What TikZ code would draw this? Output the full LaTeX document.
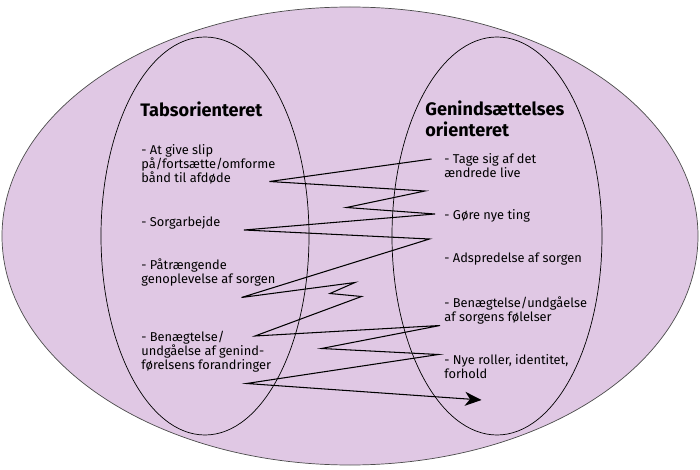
\documentclass[tikz,border=0pt]{standalone}
\usepackage{fontspec}
\setmainfont{Fira Sans}
\usepackage{tikz}
\usetikzlibrary{shapes,arrows,arrows.meta}
\definecolor{lilla}{RGB}{224,200,228}
\tikzset{
  punkt/.style={anchor=north west, inner sep=0pt, align=left, font=\fontsize{7.3}{8}\selectfont},
  titel/.style={anchor=north west, inner sep=0pt, align=left, font=\fontsize{10.3}{12.5}\selectfont\bfseries}
}

\begin{document}
\begin{tikzpicture}
   \useasboundingbox (-7,4.72) rectangle (7,-4.66);
   % de tre ellipser
   \draw[gray!60!black, fill=lilla] (0,0) ellipse (6.96 and 4.58);
   \draw (-2.9,0) ellipse (2.08 and 3.98);
   \draw (2.94,0) ellipse (2.1 and 3.98);
   % venstre side
   \node[titel] (tab) at (-4.2,2.7) {Tabsorienteret};
   \node[punkt] (slip) at (-4.18,1.83) {- At give slip\\på/fortsætte/omforme\\bånd til afdøde};
   \node[punkt] (arb) at (-4.18,0.39) {- Sorgarbejde};
   \node[punkt] (paa) at (-4.18,-0.45) {- Påtrængende\\genoplevelse af sorgen};
   \node[punkt] (ben) at (-4.18,-1.89) {- Benægtelse/\\undgåelse af genind-\\førelsens forandringer};
   % højre side
   \node[titel] (gen) at (1.5,2.72) {Genindsættelses\\orienteret};
   \node[punkt] (tage) at (1.88,1.65) {- Tage sig af det\\ændrede live};
   \node[punkt] (nye) at (1.88,0.53) {- Gøre nye ting};
   \node[punkt] (ads) at (1.88,-0.33) {- Adspredelse af sorgen};
   \node[punkt] (fol) at (1.88,-1.21) {- Benægtelse/undgåelse\\af sorgens følelser};
   \node[punkt] (rol) at (1.88,-2.37) {- Nye roller, identitet,\\forhold};
   % zigzag
   \coordinate (z0) at (1.63,1.54);
   \coordinate (z1) at (-1.61,1.09);
   \coordinate (z2) at (1.5,0.9);
   \coordinate (z3) at (-0.07,0.57);
   \coordinate (z4) at (1.7,0.44);
   \coordinate (z5) at (-2.12,0.12);
   \coordinate (z6) at (1.59,-0.06);
   \coordinate (z7) at (-2.17,-1.23);
   \coordinate (z8) at (0.1,-0.93);
   \coordinate (z9) at (-0.4,-1.15);
   \coordinate (z10) at (0.23,-1.21);
   \coordinate (z11) at (-1.9,-2.0);
   \coordinate (z12) at (1.8,-1.79);
   \coordinate (z13) at (-0.57,-2.25);
   \coordinate (z14) at (1.77,-2.37);
   \coordinate (z15) at (-2.07,-2.95);
   \coordinate (z16) at (2.63,-3.28);
   \draw[line width=0.6pt, -{Stealth[length=0.33cm, width=0.28cm, inset=0.1cm]}] (z0) -- (z1) -- (z2) -- (z3) -- (z4) -- (z5) -- (z6) -- (z7) -- (z8)
      -- (z9) -- (z10) -- (z11) -- (z12) -- (z13) -- (z14) -- (z15) -- (z16);
\end{tikzpicture}
\end{document}
